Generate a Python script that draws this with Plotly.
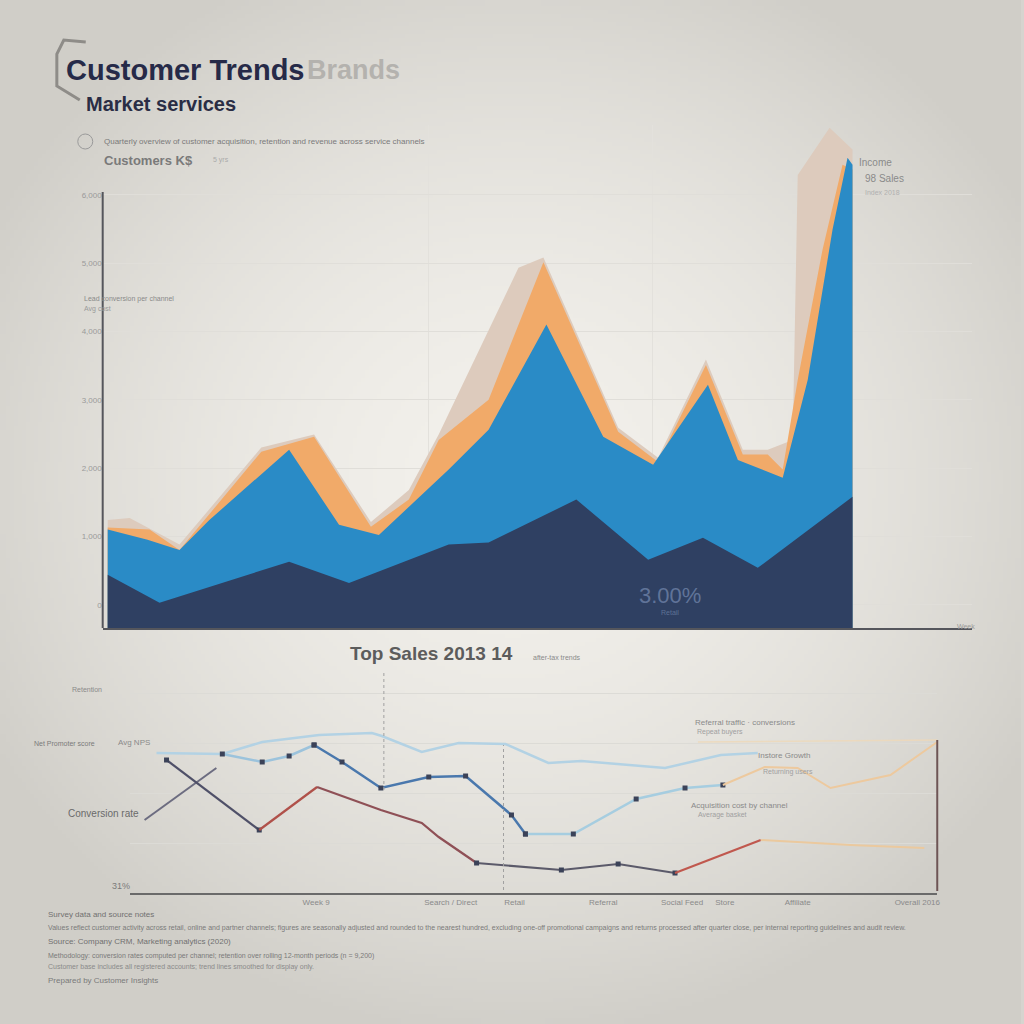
import base64, struct, zlib
import numpy as np
import plotly.graph_objects as go

# ---------------- DATA ----------------
# Top chart: x = campaign week index (0-100), y = customers (thousands)
beige_x = [0, 2.95, 9.64, 20.62, 27.71, 35.34, 40.43, 44.44, 55.15, 58.50, 68.54, 73.90, 80.32, 85.27, 88.62, 91.97, 92.64, 96.92, 100]
beige_y = [1.24, 1.27, 0.88, 2.30, 2.49, 1.21, 1.68, 2.49, 4.93, 5.08, 2.59, 2.15, 3.59, 2.27, 2.27, 2.41, 6.29, 6.98, 6.66]

orange_x = [0, 5.62, 9.64, 20.62, 27.71, 35.34, 40.43, 44.44, 51.14, 58.50, 68.54, 73.90, 80.32, 85.27, 88.62, 90.63, 92.64, 95.98, 98.66, 100]
orange_y = [1.13, 1.10, 0.80, 2.24, 2.46, 1.14, 1.54, 2.41, 3.00, 5.01, 2.53, 2.09, 3.51, 2.20, 2.20, 1.98, 3.29, 5.20, 6.44, 6.37]

blue_x = [0, 5.35, 9.64, 13.65, 24.36, 31.06, 36.41, 45.78, 51.14, 58.90, 66.53, 73.23, 80.59, 84.61, 90.63, 93.98, 97.32, 99.33, 100]
blue_y = [1.10, 0.95, 0.80, 1.24, 2.27, 1.17, 1.02, 1.98, 2.56, 4.10, 2.46, 2.05, 3.22, 2.12, 1.86, 3.29, 5.49, 6.54, 6.44]

navy_x = [0, 6.96, 24.36, 32.40, 45.78, 51.14, 62.92, 72.56, 79.92, 87.28, 100]
navy_y = [0.44, 0.03, 0.63, 0.32, 0.88, 0.91, 1.54, 0.66, 0.98, 0.54, 1.58]

top_ytick_vals = [0, 1, 2, 3, 4, 5, 6]
top_ytick_text = ["0", "1,000", "2,000", "3,000", "4,000", "5,000", "6,000"]

# Bottom chart: x = channel index (0-100), y = index score
online_x = [3.33, 11.48, 16.42, 23.46, 30.00, 31.23, 36.17, 40.74, 46.54, 51.85, 55.93, 66.30, 73.21, 77.78]
online_y = [2.80, 2.78, 3.02, 3.16, 3.20, 3.14, 2.82, 3.00, 2.98, 2.60, 2.64, 2.50, 2.76, 2.80]

instore_x = [11.48, 16.42, 19.75, 22.84, 26.30, 31.11, 37.04, 41.60, 47.28, 49.01, 54.94, 62.72, 68.77, 73.46]
instore_y = [2.78, 2.62, 2.74, 2.96, 2.62, 2.10, 2.32, 2.34, 1.56, 1.18, 1.18, 1.88, 2.10, 2.16]

referral_x = [73.46, 78.64, 82.72, 86.79, 94.20, 100]
referral_y = [2.16, 2.52, 2.50, 2.10, 2.36, 3.02]

repeat_x = [70.37, 100]
repeat_y = [3.02, 3.06]

conv_x = [4.57, 16.05, 23.21, 31.11, 36.17, 38.27, 42.96, 53.46, 60.49, 67.53, 78.15, 89.26, 98.40]
conv_y = [2.66, 1.26, 2.12, 1.66, 1.40, 1.12, 0.60, 0.46, 0.58, 0.40, 1.06, 0.96, 0.90]

cost_x = [1.85, 10.74]
cost_y = [1.46, 2.50]

bottom_tick_vals = [23.09, 39.75, 47.65, 58.64, 68.40, 73.70, 82.72, 97.53]
bottom_tick_text = ["Week 9", "Search / Direct", "Retail", "Referral", "Social Feed", "Store", "Affiliate", "Overall 2016"]

# ---------------- HELPERS ----------------
W = H = 1024
def px(x):
    return x / W
def py(y):
    return 1 - y / H

def make_png(arr):
    h, w, _ = arr.shape
    raw = b"".join(b"\x00" + arr[i].tobytes() for i in range(h))
    def chunk(t, d):
        c = struct.pack(">I", len(d)) + t + d
        return c + struct.pack(">I", zlib.crc32(t + d) & 0xffffffff)
    return (b"\x89PNG\r\n\x1a\n" + chunk(b"IHDR", struct.pack(">IIBBBBB", w, h, 8, 2, 0, 0, 0))
            + chunk(b"IDAT", zlib.compress(raw, 9)) + chunk(b"IEND", b""))

n = 256
yy, xx = np.mgrid[0:n, 0:n] * (1024 / n)
d = np.sqrt(((xx - 512) / 600) ** 2 + ((yy - 480) / 560) ** 2)
t = np.clip(d, 0, 1) ** 1.7
center = np.array([243, 241, 236], dtype=float)
edge = np.array([208, 206, 200], dtype=float)
img = (center[None, None, :] + (edge - center)[None, None, :] * t[:, :, None]).astype(np.uint8)
bg_uri = "data:image/png;base64," + base64.b64encode(make_png(img)).decode()

TOP_YMIN, TOP_YMAX = -0.34, 7.02

fig = go.Figure()

def area(x, y, color, name):
    xs = list(x) + [x[-1], x[0]]
    ys = list(y) + [TOP_YMIN, TOP_YMIN]
    fig.add_trace(go.Scatter(x=xs, y=ys, fill="toself", fillcolor=color, mode="lines",
                             line=dict(width=0, color=color), name=name, xaxis="x", yaxis="y",
                             showlegend=False))

area(beige_x, beige_y, "#ddcbbd", "Prospects")
area(orange_x, orange_y, "#f1aa69", "Leads")
area(blue_x, blue_y, "#2a8bc6", "Customers")
area(navy_x, navy_y, "#2f4062", "Repeat customers")

def line(x, y, color, width=2.2, name="", markers=False, opacity=1.0):
    fig.add_trace(go.Scatter(x=x, y=y, mode="lines+markers" if markers else "lines",
                             line=dict(color=color, width=width),
                             marker=dict(size=5, color="#3b4258", symbol="square"),
                             opacity=opacity, name=name, xaxis="x2", yaxis="y2", showlegend=False))

line(repeat_x, repeat_y, "#efd9b8", 1.5, "Repeat buyers", opacity=0.8)
line(online_x, online_y, "#b3d2e4", 2.5, "Online")
line(instore_x[:4], instore_y[:4], "#9cc3dc", 2.5, "In-store", markers=True)
line(instore_x[3:10], instore_y[3:10], "#4a78ad", 2.5, "In-store", markers=True)
line(instore_x[9:], instore_y[9:], "#a6cde0", 2.5, "In-store", markers=True)
line(referral_x, referral_y, "#edc99e", 2, "Referral")
line(cost_x, cost_y, "#6c6c80", 2, "Cost")
line(conv_x[:2], conv_y[:2], "#4f5068", 2.2, "Conversion", markers=True)
line(conv_x[1:3], conv_y[1:3], "#b0514a", 2.2, "Conversion")
line(conv_x[2:7], conv_y[2:7], "#8f5056", 2.2, "Conversion")
line(conv_x[6:10], conv_y[6:10], "#5b5a6a", 2.2, "Conversion", markers=True)
line(conv_x[9:11], conv_y[9:11], "#c0584e", 2.2, "Conversion")
line(conv_x[10:], conv_y[10:], "#ebc99e", 2.0, "Conversion")

# ---------------- TEXT ----------------
ann = []
def text(x, y, s, size=8, color="#888888", bold=False, anchor="left", family="Liberation Sans"):
    ann.append(dict(x=px(x), y=py(y), xref="paper", yref="paper", text=("<b>%s</b>" % s) if bold else s,
                    showarrow=False, xanchor=anchor, yanchor="middle",
                    font=dict(size=size, color=color, family=family)))

text(64, 70, "Customer Trends", 29, "#262a48", True)
text(306, 70, "Brands", 27, "#b4b2ae", True)
text(84, 104, "Market services", 20, "#2a2d45", True)
text(102, 141, "Quarterly overview of customer acquisition, retention and revenue across service channels", 8, "#7a7a7a")
text(102, 160, "Customers K$", 13, "#7a7a7a", True)
text(212, 160, "5 yrs", 7, "#aaaaaa")
text(82, 299, "Lead conversion per channel", 7, "#8a8a8a")
text(82, 309, "Avg cost", 7, "#9a9a9a")
text(860, 162, "Income", 10, "#8a8a8a")
text(866, 178, "98 Sales", 10, "#8a8a8a")
text(866, 192, "Index 2018", 7, "#b0b0b0")
text(672, 595, "3.00%", 22, "rgba(140,160,200,0.55)", anchor="center")
text(672, 612, "Retail", 7, "rgba(140,160,200,0.5)", anchor="center")
text(958, 626, "Week", 7, "#9a9a9a")

text(433, 653, "Top Sales 2013 14", 19, "#5c5c5c", True, anchor="center")
text(533, 657, "after-tax trends", 7, "#8a8a8a")
text(70, 689, "Retention", 7, "#8a8a8a")
text(32, 743, "Net Promoter score", 7, "#7a7a7a")
text(116, 742, "Avg NPS", 8, "#8a8a8a")
text(66, 813, "Conversion rate", 10, "#6a6a6a")
text(110, 886, "31%", 9, "#7a7a7a")
text(695, 722, "Referral traffic · conversions", 8, "#8a8a8a")
text(697, 732, "Repeat buyers", 7, "#a0a0a0")
text(758, 755, "Instore Growth", 8, "#8a8a8a")
text(763, 772, "Returning users", 7, "#a0a0a0")
text(691, 805, "Acquisition cost by channel", 8, "#8a8a8a")
text(698, 815, "Average basket", 7, "#a0a0a0")

text(46, 914, "Survey data and source notes", 8, "#707070")
text(46, 928, "Values reflect customer activity across retail, online and partner channels; figures are seasonally adjusted and rounded to the nearest hundred, excluding one-off promotional campaigns and returns processed after quarter close, per internal reporting guidelines and audit review.", 7, "#7a7a7a")
text(46, 941, "Source: Company CRM, Marketing analytics (2020)", 8, "#707070")
text(46, 956, "Methodology: conversion rates computed per channel; retention over rolling 12-month periods (n = 9,200)", 7, "#7a7a7a")
text(46, 967, "Customer base includes all registered accounts; trend lines smoothed for display only.", 7, "#8a8a8a")
text(46, 980, "Prepared by Customer Insights", 8, "#7a7a7a")

# ---------------- SHAPES ----------------
shapes = [
    dict(type="line", xref="paper", yref="paper", x0=px(103), x1=px(103), y0=py(628), y1=py(192),
         line=dict(color="#55565c", width=2)),
    dict(type="line", xref="paper", yref="paper", x0=px(940), x1=px(940), y0=py(891), y1=py(740),
         line=dict(color="#6e5555", width=2)),
    dict(type="line", xref="paper", yref="paper", x0=px(385), x1=px(385), y0=py(790), y1=py(670),
         line=dict(color="#a0a0a0", width=1, dash="dot")),
    dict(type="line", xref="paper", yref="paper", x0=px(505), x1=px(505), y0=py(890), y1=py(745),
         line=dict(color="#a0a0a0", width=1, dash="dot")),
    dict(type="circle", xref="paper", yref="paper", x0=px(78), x1=px(93), y0=py(149), y1=py(134),
         line=dict(color="#9a9a9a", width=1)),
    dict(type="path", xref="paper", yref="paper",
         path="M %f %f L %f %f L %f %f L %f %f L %f %f" % (px(86), py(42), px(64), py(40), px(57), py(54),
                                                       px(57), py(86), px(80), py(100)),
         line=dict(color="#8e8c88", width=3)),
]

fig.update_layout(
    width=W, height=H, margin=dict(l=0, r=0, t=0, b=0),
    paper_bgcolor="#d6d4cf", plot_bgcolor="rgba(0,0,0,0)",
    images=[dict(source=bg_uri, xref="paper", yref="paper", x=0, y=1, sizex=1, sizey=1,
                 sizing="stretch", layer="below")],
    xaxis=dict(domain=[px(103), px(975)], range=[-0.67, 116.06], tickvals=[43.1, 73.2],
               showticklabels=False, showgrid=True, gridcolor="#e3e1dc", zeroline=False,
               showline=True, linecolor="#55565c", linewidth=1.5, anchor="y"),
    yaxis=dict(domain=[py(628), py(125)], range=[TOP_YMIN, TOP_YMAX], tickvals=top_ytick_vals,
               ticktext=top_ytick_text, tickfont=dict(size=8, color="#9a9a9a", family="Liberation Sans"),
               showgrid=True, gridcolor="#e0ded9", zeroline=False, showline=False, anchor="x"),
    xaxis2=dict(domain=[px(130), px(940)], range=[0, 100], tickvals=bottom_tick_vals,
                ticktext=bottom_tick_text, tickfont=dict(size=8, color="#8a8a8a", family="Liberation Sans"),
                showgrid=False, zeroline=False, showline=True, linecolor="#6a6a6a", linewidth=2,
                anchor="y2", ticks=""),
    yaxis2=dict(domain=[py(893), py(668)], range=[0, 4.5], tickvals=[1, 2, 3, 4], showticklabels=False,
                showgrid=True, gridcolor="#dcdbd6", zeroline=False, anchor="x2"),
    annotations=ann, shapes=shapes, showlegend=False,
)

fig.write_html("out.html", config={"displayModeBar": False},
               post_script="document.body.style.margin='0';document.body.style.overflow='hidden';")
